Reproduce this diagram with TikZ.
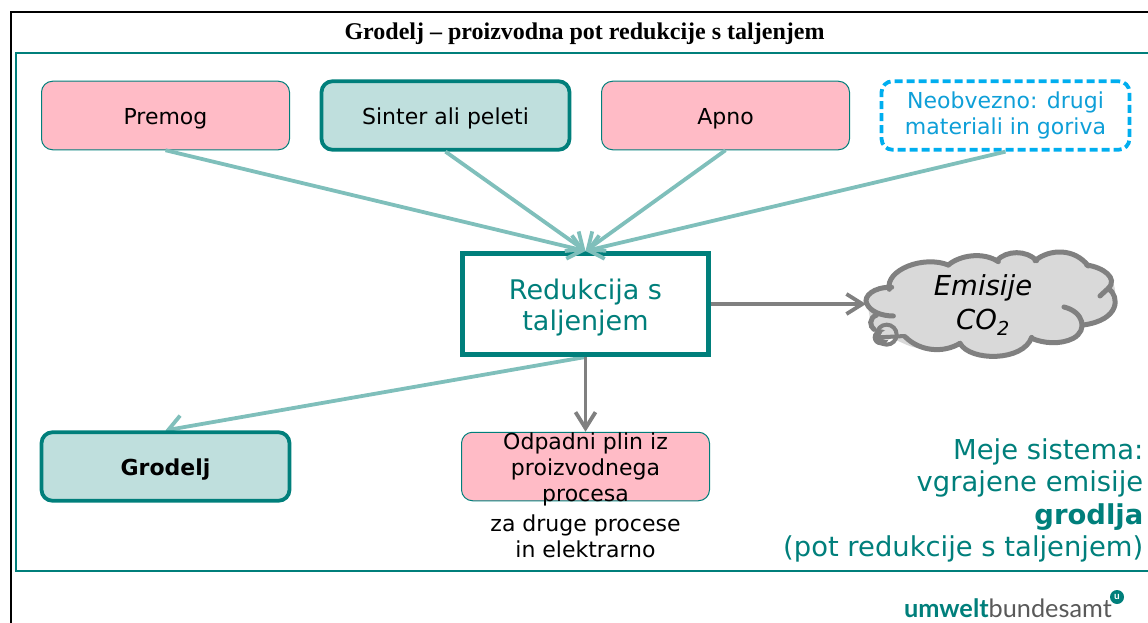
\documentclass[tikz,border=0pt]{standalone}
\usepackage{fontspec}
\setmainfont{DejaVu Sans}
\newfontfamily\titlefont{Liberation Serif}
\newfontfamily\logofont{Lato}
\usetikzlibrary{arrows.meta,backgrounds}
\definecolor{tealdark}{HTML}{007F7B}
\definecolor{teallight}{HTML}{7FBFBB}
\definecolor{tealfill}{HTML}{BFDFDD}
\definecolor{pinkfill}{HTML}{FFBBC6}
\definecolor{cyanline}{HTML}{00AEEF}
\definecolor{cyantext}{HTML}{0E9FD8}
\definecolor{greyline}{HTML}{808080}
\definecolor{greyfill}{HTML}{D9D9D9}
\tikzset{
  x=1pt,y=-1pt,
  base/.style={minimum width=248pt,minimum height=68.5pt,rounded corners=11pt,align=center,inner sep=0pt,font=\fontsize{22}{26}\selectfont,text=black,execute at begin node={\rule{0pt}{22.7pt}}},
  pinkbox/.style={base,fill=pinkfill,draw=tealdark,line width=1pt},
  tealbox/.style={base,fill=tealfill,draw=tealdark,line width=3.8pt},
  dashbox/.style={base,fill=white,draw=cyanline,line width=3.8pt,dash pattern=on 8pt off 4pt,text=cyantext},
  tealarrow/.style={draw=teallight,line width=3.8pt,-{Straight Barb[length=14pt,width=24pt,line width=3.8pt]}},
  greyarrow/.style={draw=greyline,line width=3.8pt,-{Straight Barb[length=16pt,width=20pt,line width=3.8pt]}},
  cloudline/.style={draw=greyline,line width=5pt,line cap=round}
}
\begin{document}
\begin{tikzpicture}[x=1pt,y=-1pt]
\useasboundingbox (0,0) rectangle (1148,623);
% frames
\draw[black,line width=2pt] (10.5,623) -- (10.5,12) -- (1148,12);
\draw[tealdark,line width=2pt] (1148,53.5) -- (15.5,53.5) -- (15.5,571) -- (1148,571);
\node[font=\titlefont\bfseries\fontsize{24}{28}\selectfont,inner sep=0pt] (title) at (584.5,34) {Grodelj – proizvodna pot redukcije s taljenjem};
% input boxes
\node[pinkbox] (premog) at (165.5,115.5) {Premog};
\node[tealbox] (sinter) at (445.5,115.5) {Sinter ali peleti};
\node[pinkbox] (apno) at (725.5,115.5) {Apno};
\node[dashbox] (neob) at (1005.5,115.5) {Neobvezno: drugi\\materiali in goriva};
% process
\node[draw=tealdark,fill=white,line width=5pt,minimum width=246pt,minimum height=101pt,inner sep=0pt,align=center,text=tealdark,font=\fontsize{27}{31.5}\selectfont] (red) at (585.5,304) {\rule{0pt}{28pt}Redukcija s\\taljenjem};
% outputs
\node[tealbox,font=\bfseries\fontsize{22}{26}\selectfont] (grodelj) at (165.5,466.5) {Grodelj};
\node[pinkbox] (odpad) at (585.5,466.5) {};
\node[align=center,inner sep=0pt,font=\fontsize{22}{26}\selectfont] (odpadtxt) at (585.5,469) {Odpadni plin iz\\proizvodnega\\procesa};
\node[align=center,inner sep=0pt,font=\fontsize{22}{26}\selectfont] (druge) at (585.5,536.5) {za druge procese\\in elektrarno};
% cloud
\begin{scope}[shift={(840,230)},x=0.3333pt,y=-0.3333pt]
  \fill[greyfill] (150,175) .. controls (95,170) and (70,200) .. (80,220)
    .. controls (90,245) and (85,265) .. (100,290)
    .. controls (110,320) and (150,320) .. (190,340)
    .. controls (240,365) and (310,365) .. (360,340)
    .. controls (390,385) and (530,395) .. (575,325)
    .. controls (640,350) and (720,340) .. (728,285)
    .. controls (790,285) and (850,250) .. (825,195)
    .. controls (830,140) and (780,110) .. (745,105)
    .. controls (700,55) and (630,60) .. (590,90)
    .. controls (560,60) and (500,60) .. (475,95)
    .. controls (430,70) and (360,75) .. (325,105)
    .. controls (260,85) and (150,100) .. (150,175) -- cycle;
  \draw[cloudline] (155,172) .. controls (100,170) and (70,200) .. (80,220) .. controls (90,245) and (125,258) .. (160,258);
  \draw[cloudline] (148,178) .. controls (135,120) and (250,75) .. (325,105);
  \draw[cloudline] (325,105) .. controls (360,75) and (430,65) .. (475,95);
  \draw[cloudline] (470,92) .. controls (500,60) and (560,60) .. (590,92);
  \draw[cloudline] (585,92) .. controls (630,55) and (705,55) .. (745,108);
  \draw[cloudline] (740,105) .. controls (790,112) and (835,145) .. (805,175) -- (780,198);
  \draw[cloudline] (805,175) .. controls (840,200) and (840,270) .. (730,285);
  \draw[cloudline] (672,231) .. controls (730,245) and (745,300) .. (700,325) .. controls (660,345) and (610,340) .. (575,325);
  \draw[cloudline] (575,322) .. controls (550,395) and (390,395) .. (360,340);
  \draw[cloudline] (360,340) .. controls (310,370) and (240,365) .. (195,320);
  \draw[cloudline] (110,255) .. controls (85,265) and (90,290) .. (102,298);
  \fill[greyline] (122,322) circle (24);
  \draw[draw=greyline,line width=4pt] (140,314) circle (30);
  \fill[greyfill] (140,316) ellipse (18 and 14);
  \draw[draw=greyline,line width=4pt] (118,322) -- (196,318);
\end{scope}
\coordinate (cloudw) at (866,304);
\node[align=center,inner sep=0pt,font=\itshape\fontsize{27.5}{34}\selectfont] (cloudtxt) at (983,305) {Emisije\\CO\textsubscript{2}};
% connectors
\draw[tealarrow] (premog.south) -- (red.north);
\draw[tealarrow] (sinter.south) -- (red.north);
\draw[tealarrow] (apno.south) -- (red.north);
\draw[tealarrow] (neob.south) -- (red.north);
\begin{pgfonlayer}{background}
\draw[tealarrow] (red.south) -- (grodelj.north);
\end{pgfonlayer}
\draw[greyarrow] (red.south) -- (odpad.north);
\draw[greyarrow] (red.east) -- (cloudw);
% system boundary
\node[anchor=north east,align=right,inner sep=0pt,text=tealdark,font=\fontsize{27.4}{32.5}\selectfont] (meje) at (1143.5,438) {Meje sistema:\\vgrajene emisije\\\textbf{grodlja}\\(pot redukcije s taljenjem)};
% logo
\node[anchor=base east,inner sep=0pt,font=\logofont\fontsize{25.3}{28}\selectfont,text=black!65] (logo) at (1112,617) {\textcolor{tealdark}{\bfseries umwelt}bundesamt};
\node[circle,fill=tealdark,minimum size=14pt,inner sep=0pt,font=\logofont\bfseries\fontsize{10}{10}\selectfont,text=white] (logou) at (1117,597) {u};
\end{tikzpicture}
\end{document}
